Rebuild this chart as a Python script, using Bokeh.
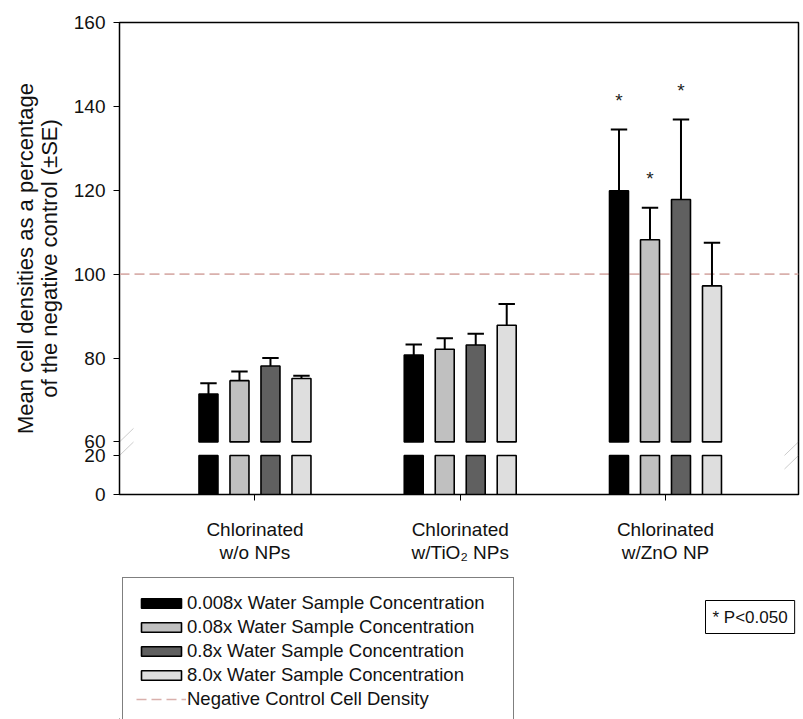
from bokeh.plotting import figure
from bokeh.layouts import column
from bokeh.models import (Range1d, FixedTicker, Legend, LegendItem, Label,
                          PolyAnnotation, ColumnDataSource, PrintfTickFormatter)
from bokeh.embed import file_html
from bokeh.resources import INLINE
from bokeh.core.properties import value

# ---------------- data ----------------
groups = ["Chlorinated\nw/o NPs", "Chlorinated\nw/TiO\u2082 NPs", "Chlorinated\nw/ZnO NP"]
series_labels = ["0.008x Water Sample Concentration",
                 "0.08x Water Sample Concentration",
                 "0.8x Water Sample Concentration",
                 "8.0x Water Sample Concentration"]
control_label = "Negative Control Cell Density"

mean_0008 = [71.4, 80.7, 119.9]
mean_008 = [74.6, 82.1, 108.2]
mean_08 = [78.1, 83.1, 117.8]
mean_80 = [75.1, 87.8, 97.2]

se_0008 = [2.6, 2.5, 14.6]
se_008 = [2.2, 2.6, 7.6]
se_08 = [1.9, 2.7, 19.1]
se_80 = [0.7, 5.1, 10.3]

sig_0008 = [False, False, True]
sig_008 = [False, False, True]
sig_08 = [False, False, True]
sig_80 = [False, False, False]

control_level = 100
upper_ticks = [60, 80, 100, 120, 140, 160]
lower_ticks = [0, 20]
sig_note = "* P<0.050"

# ---------------- styling / layout ----------------
FONT = "Liberation Sans"
TXT = "#111111"
colors = ["#000000", "#c0c0c0", "#606060", "#dedede"]
offsets = [-0.2265, -0.0755, 0.0755, 0.2265]
bar_w = 0.0925
cap_w = 0.08
star_gap = 7

W = 803
H1, H2 = 566, 153
left_b, right_b, top_b, bottom_b = 119, 5, 22, 72
frame_h = H1 - top_b - bottom_b
x_start, x_end = 0.340, 3.648

# broken axis: upper panel 60..160, lower panel 0..20
upper_lo, upper_hi = upper_ticks[0], upper_ticks[-1]
lower_lo, lower_hi = lower_ticks[0], lower_ticks[-1]
ppu_upper = 419.4 / (upper_hi - upper_lo)   # px per unit, upper panel
ppu_lower = 39.0 / (lower_hi - lower_lo)    # px per unit, lower panel
up_start = upper_hi - frame_h / ppu_upper
low_end = lower_lo + frame_h / ppu_lower

def lower_to_upper(v):
    return up_start + (v - lower_lo) * ppu_lower / ppu_upper

p = figure(width=W, height=H1, output_backend="svg", toolbar_location=None,
           x_range=Range1d(x_start, x_end), y_range=Range1d(up_start, upper_hi),
           min_border_left=left_b, min_border_right=right_b,
           min_border_top=top_b, min_border_bottom=bottom_b,
           background_fill_color="white", border_fill_color="white")
p.extra_y_ranges = {"lower": Range1d(lower_lo, low_end)}
p.xgrid.visible = False
p.ygrid.visible = False
p.outline_line_color = "black"
p.outline_line_width = 1.5
p.outline_line_alpha = 1.0

# control line
ctrl_style = dict(line_color="#d9b0ac", line_width=1.6, line_dash="10 5")
p.line(x=[x_start, x_end], y=[control_level, control_level], **ctrl_style)

means = [mean_0008, mean_008, mean_08, mean_80]
ses = [se_0008, se_008, se_08, se_80]
sigs = [sig_0008, sig_008, sig_08, sig_80]
xs_base = [1, 2, 3]

for i in range(4):
    xs = [x + offsets[i] for x in xs_base]
    src = ColumnDataSource(dict(x=xs, top=means[i],
                                bottom=[upper_lo] * 3,
                                err=[m + s for m, s in zip(means[i], ses[i])],
                                cl=[x - cap_w / 2 for x in xs],
                                cr=[x + cap_w / 2 for x in xs]))
    # error bars (upper only)
    p.segment(x0="x", y0="top", x1="x", y1="err", source=src,
              line_color="black", line_width=2)
    p.segment(x0="cl", y0="err", x1="cr", y1="err", source=src,
              line_color="black", line_width=2)
    p.vbar(x="x", width=bar_w, top="top", bottom="bottom", source=src,
           fill_color=colors[i], line_color="black", line_width=1.6)
    # lower segment of broken bars
    p.vbar(x=xs, width=bar_w, top=[lower_hi] * 3, bottom=[lower_lo] * 3,
           y_range_name="lower", fill_color=colors[i], line_color="black",
           line_width=1.6)
    # significance stars
    sx = [x for x, s in zip(xs, sigs[i]) if s]
    sy = [m + s + star_gap for m, s, g in zip(means[i], ses[i], sigs[i]) if g]
    if sx:
        p.text(x=sx, y=sy, text=["*"] * len(sx), text_align="center",
               text_baseline="middle", text_font=value(FONT),
               text_font_size="19px", text_color="#222222")

# axes
p.yaxis.ticker = FixedTicker(ticks=[lower_to_upper(t) for t in lower_ticks] + upper_ticks)
p.yaxis.formatter = PrintfTickFormatter(format="%d")
p.yaxis.major_label_overrides = {lower_to_upper(t): str(t) for t in lower_ticks}
p.yaxis.axis_label = "Mean cell densities as a percentage\nof the negative control (\u00b1SE)"
p.yaxis.axis_label_text_font = FONT
p.yaxis.axis_label_text_font_style = "normal"
p.yaxis.axis_label_text_font_size = "22px"
p.yaxis.axis_label_text_line_height = 0.95
p.yaxis.axis_label_text_color = TXT
p.yaxis.axis_label_standoff = 9
p.yaxis.major_label_text_font = FONT
p.yaxis.major_label_text_font_size = "19px"
p.yaxis.major_label_text_color = TXT
p.yaxis.major_label_standoff = 8
p.yaxis.major_tick_out = 6
p.yaxis.major_tick_in = 0
p.yaxis.minor_tick_line_color = None
p.yaxis.axis_line_color = "black"
p.yaxis.major_tick_line_color = "black"

p.xaxis.ticker = FixedTicker(ticks=xs_base)
p.xaxis.major_label_overrides = {x: g for x, g in zip(xs_base, groups)}
p.xaxis.major_label_text_font = FONT
p.xaxis.major_label_text_font_size = "19px"
p.xaxis.major_label_text_line_height = 1.1
p.xaxis.major_label_text_color = TXT
p.xaxis.major_label_standoff = 18
p.xaxis.major_tick_out = 6
p.xaxis.major_tick_in = 0
p.xaxis.minor_tick_line_color = None
p.xaxis.axis_line_color = "black"

# axis break marks (inside the frame part)
dx = 14 / ((W - left_b - right_b) / (x_end - x_start))
dy = 13.5 / ppu_upper
for xc in (x_start, x_end):
    for yc in (upper_lo, lower_to_upper(lower_hi)):
        p.add_layout(PolyAnnotation(xs=[xc - dx, xc + dx], ys=[yc - dy, yc + dy],
                                    fill_alpha=0, line_color="#555555",
                                    line_width=1))

# ---------------- legend panel ----------------
p2 = figure(width=W, height=H2, output_backend="svg", toolbar_location=None,
            x_range=Range1d(0, 1), y_range=Range1d(0, 1),
            x_axis_location=None, y_axis_location=None,
            min_border_left=0, min_border_right=0, min_border_top=0,
            min_border_bottom=0, outline_line_color=None,
            background_fill_color="white", border_fill_color="white")
p2.xgrid.visible = False
p2.ygrid.visible = False

# legend keys (single off-view point each, only used for the legend swatches)
items = []
for i in range(4):
    proxy = p2.vbar(x=[-5], width=0.1, top=[-5], bottom=[-6],
                    fill_color=colors[i], line_color="black", line_width=1.6)
    items.append(LegendItem(label=series_labels[i], renderers=[proxy]))
ctrl_proxy = p2.line(x=[-6, -5], y=[-5, -5], **ctrl_style)
items.append(LegendItem(label=control_label, renderers=[ctrl_proxy]))

# the column aligns p2's frame with p's frame (left edge at left_b)
legend = Legend(items=items, location=(122 - left_b, -6), orientation="vertical",
                border_line_color="black", border_line_width=1.2,
                background_fill_color="white", background_fill_alpha=1,
                padding=13, spacing=0, margin=0,
                glyph_width=50, glyph_height=12, label_height=24,
                label_standoff=1, label_width=313, label_text_font=FONT,
                label_text_font_size="18.5px", label_text_color=TXT)
p2.add_layout(legend, "center")

note = Label(x=705 - left_b, y=H2 - (600 - H1), x_units="screen", y_units="screen",
             text=sig_note, anchor="top_left", text_font=FONT,
             text_font_size="17px", text_color=TXT,
             border_line_color="black", border_line_width=1,
             background_fill_color="white", padding=7)
p2.add_layout(note)

layout = column(p, p2, spacing=0)
open("out.html", "w").write(file_html(layout, INLINE))
